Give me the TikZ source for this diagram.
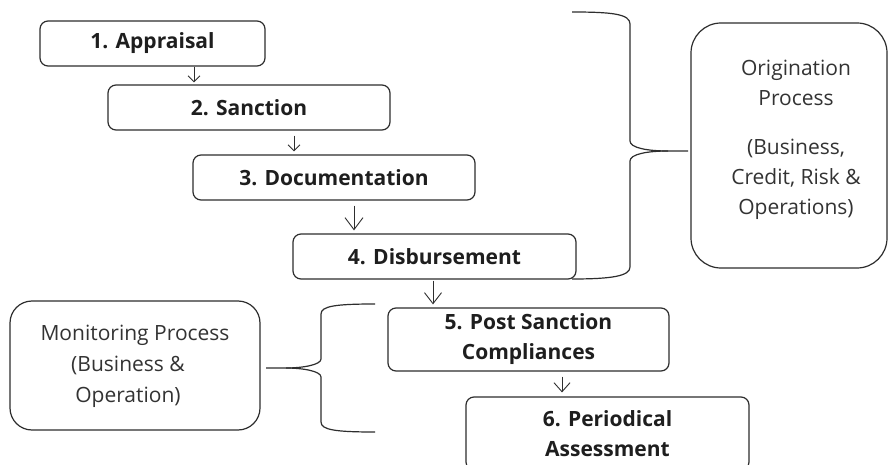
\documentclass[tikz,border=0pt]{standalone}
\usepackage{fontspec}
\setmainfont{Open Sans}
\usetikzlibrary{arrows.meta}
\definecolor{edgec}{HTML}{2E2E2E}
\definecolor{txtc}{HTML}{1E1E1E}
\definecolor{softc}{HTML}{333333}
\begin{document}
\begin{tikzpicture}[x=1pt,y=-1pt,
  stepbox/.style={draw=edgec, line width=1.2pt, rounded corners=8pt, inner sep=0pt,
    font=\fontsize{21}{30}\selectfont\bfseries, text=txtc, align=center},
  sidebox/.style={draw=edgec, line width=1.2pt, inner sep=0pt},
  sidetext/.style={font=\fontsize{21}{30}\selectfont, text=softc, align=center, inner sep=0pt},
  flow/.style={draw=edgec, line width=0.9pt},
  bracec/.style={draw=edgec, line width=1.2pt}]
\clip (0,0) rectangle (888,465);
\fill[white] (0,0) rectangle (888,465);

% flow boxes
\node[stepbox, minimum width=225pt, minimum height=45pt] (b1) at (152.5,43.5) {1. Appraisal};
\node[stepbox, minimum width=282pt, minimum height=45pt] (b2) at (249,107.5) {2. Sanction};
\node[stepbox, minimum width=282pt, minimum height=45pt] (b3) at (334,177.5) {3. Documentation};
\node[stepbox, minimum width=283pt, minimum height=45pt] (b4) at (434.5,256.5) {4. Disbursement};
\node[stepbox, minimum width=281pt, minimum height=63pt] (b5) at (528.5,339.5) {5. Post Sanction\\Compliances};
\node[stepbox, minimum width=283pt, minimum height=73pt] (b6) at (607.5,433.5) {6. Periodical\\Assessment};

% arrow columns
\coordinate (x1) at (194,0);
\coordinate (x2) at (294,0);
\coordinate (x3) at (354,0);
\coordinate (x4) at (433,0);
\coordinate (x5) at (562,0);

\draw[flow, -{Straight Barb[length=6pt,width=12pt]}, shorten >=2pt] (b1.south -| x1) -- (b2.north -| x1);
\draw[flow, -{Straight Barb[length=6pt,width=12pt]}, shorten <=5pt, shorten >=3pt] (b2.south -| x2) -- (b3.north -| x2);
\draw[flow, -{Straight Barb[length=12pt,width=18pt]}, shorten <=5pt, shorten >=3pt] (b3.south -| x3) -- (b4.north -| x3);
\draw[flow, -{Straight Barb[length=11pt,width=17pt]}, shorten <=1pt, shorten >=3pt] (b4.south -| x4) -- (b5.north -| x4);
\draw[flow, -{Straight Barb[length=9pt,width=16pt]}, shorten <=5pt, shorten >=4pt] (b5.south -| x5) -- (b6.north -| x5);

% origination box
\node[sidebox, rounded corners=30pt, minimum width=196pt, minimum height=245pt] (orig) at (789,145.5) {};
\node[sidetext] (origtxt) at (796,140) {Origination\\Process\\[19pt](Business,\\Credit, Risk \&\\Operations)};

% monitoring box
\node[sidebox, rounded corners=22pt, minimum width=250pt, minimum height=129pt] (mon) at (135,365.5) {};
\node[sidetext, font=\fontsize{21}{31}\selectfont] (montxt) at (135,366.5)
  {Monitoring Process\\(Business \&\hspace*{14pt}\null\\Operation)\hspace*{14pt}\null};

% origination brace
\coordinate (oTop) at (572,12);
\coordinate (oBot) at (572,279);
\coordinate (oTip) at (688,151);
\draw[bracec] (oTop) .. controls (612,12) and (630,14) .. (630,24) -- (630,141)
  .. controls (630,148) and (648,151) .. (668,151) -- (oTip);
\draw[bracec] (668,151) .. controls (648,151) and (630,154) .. (630,161) -- (630,267)
  .. controls (630,276) and (612,279) .. (oBot);

% monitoring brace
\coordinate (mTop) at (375,304);
\coordinate (mBot) at (375,432);
\coordinate (mTip) at (266,368);
\draw[bracec] (mTop) .. controls (336,304) and (321,306) .. (321,314) -- (321,359)
  .. controls (321,365) and (302,368) .. (286,368) -- (mTip);
\draw[bracec] (286,368) .. controls (302,368) and (321,371) .. (321,377) -- (321,422)
  .. controls (321,430) and (336,432) .. (mBot);
\end{tikzpicture}
\end{document}
